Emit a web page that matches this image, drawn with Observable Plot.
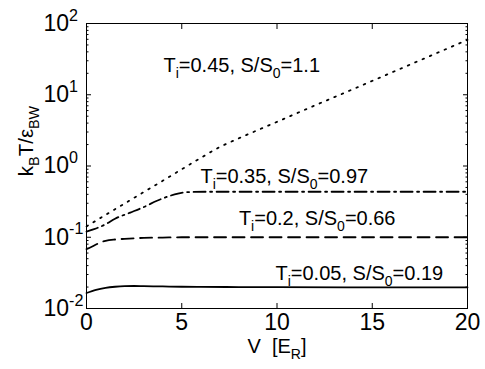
<!DOCTYPE html>
<html><head><meta charset="utf-8">
<script src="https://cdn.jsdelivr.net/npm/d3@7"></script>
<script src="https://cdn.jsdelivr.net/npm/@observablehq/plot@0.6"></script>
<style>body{margin:0;background:#fff} svg{display:block}</style>
</head><body><div id="chart"></div>
<script>
// Series: T_i = 0.05 (solid)
const vA = [0, 0.5, 1, 1.5, 2, 2.5, 3, 4, 5, 6, 8, 10, 14, 20];
const tA = [0.0165, 0.0183, 0.0195, 0.0202, 0.0206, 0.0207, 0.0206, 0.0204, 0.0202, 0.0201, 0.02, 0.0199, 0.0198, 0.0198];
// T_i = 0.2 (dashed)
const vB = [0, 0.25, 0.5, 0.75, 1, 1.5, 2, 3, 4, 5, 6, 8, 20];
const tB = [0.068, 0.073, 0.079, 0.085, 0.089, 0.093, 0.095, 0.098, 0.099, 0.1, 0.1, 0.1, 0.1];
// T_i = 0.35 (dash-dot)
const vC = [0, 0.4, 1, 1.5, 2.3, 3, 3.7, 4.3, 4.8, 5.5, 6.5, 8, 20];
const tC = [0.12, 0.13, 0.152, 0.182, 0.222, 0.265, 0.325, 0.375, 0.41, 0.432, 0.435, 0.435, 0.435];
// T_i = 0.45 (dotted)
const vD = [0, 1, 2, 3, 4, 5, 6, 7, 8, 9, 10, 12, 14, 16, 18, 20];
const tD = [0.142, 0.206, 0.297, 0.43, 0.62, 0.9, 1.3, 1.85, 2.45, 3.2, 4.17, 7.1, 12, 20.4, 34.7, 58.9];

const xTicks = [0, 5, 10, 15, 20];
const yTicks = [0.01, 0.1, 1, 10, 100];
const yTickLabels = ["10^{-2}", "10^{-1}", "10^{0}", "10^{1}", "10^{2}"];

const labelText = ["T_{i}=0.45, S/S_{0}=1.1", "T_{i}=0.35, S/S_{0}=0.97", "T_{i}=0.2, S/S_{0}=0.66", "T_{i}=0.05, S/S_{0}=0.19"];
const labelV = [4.04, 5.98, 8.0, 9.92];
const labelT = [25.6, 0.713, 0.184, 0.0312];

const xLabel = "V\u00a0\u00a0[E_{R}]";
const yLabel = "k_{B}T/\u03b5_{BW}";
const yLabelAt = 0.72; // where the (upward-running) y-axis title starts, in data units

const series = (v, t) => v.map((x, i) => ({V: x, T: t[i]}));
const yMinor = d3.scaleLog().domain([0.01, 100]).ticks()
  .filter(d => Math.abs(Math.log10(d) - Math.round(Math.log10(d))) > 1e-6);

const lineOpts = {x: "V", y: "T", stroke: "black", curve: "monotone-x"};

const svg = Plot.plot({
  width: 485, height: 369,
  marginLeft: 86, marginRight: 18, marginTop: 23, marginBottom: 61,
  style: {fontFamily: "'Liberation Sans', Arial, Helvetica, sans-serif", color: "black", background: "white"},
  x: {domain: [0, 20]},
  y: {type: "log", domain: [0.01, 100]},
  marks: [
    Plot.axisX({anchor: "bottom", ticks: xTicks, tickSize: -5, fill: "none", label: null}),
    Plot.axisX({anchor: "top", ticks: xTicks, tickSize: -5, fill: "none", label: null}),
    Plot.axisX({anchor: "bottom", ticks: xTicks, tickSize: 0, tickPadding: 5, fontSize: 23, label: null}),
    Plot.axisY({anchor: "left", ticks: yTicks, tickSize: -5, fill: "none", label: null}),
    Plot.axisY({anchor: "left", ticks: yMinor, tickSize: -2.5, fill: "none", label: null}),
    Plot.axisY({anchor: "right", ticks: yTicks, tickSize: -5, fill: "none", label: null}),
    Plot.axisY({anchor: "right", ticks: yMinor, tickSize: -2.5, fill: "none", label: null}),
    Plot.axisY({anchor: "left", ticks: yTicks, tickFormat: d => yTickLabels[yTicks.indexOf(d)],
      tickSize: 0, tickPadding: 0, textAnchor: "start", dx: -43, fontSize: 23, label: null}),
    Plot.line(series(vA, tA), {...lineOpts, strokeWidth: 1.8}),
    Plot.line(series(vB, tB), {...lineOpts, strokeWidth: 1.8, strokeDasharray: "12,6.5"}),
    Plot.line(series(vC, tC), {...lineOpts, strokeWidth: 1.8, strokeDasharray: "12,4.5,2,4.5"}),
    Plot.line(series(vD, tD), {...lineOpts, strokeWidth: 1.8, strokeDasharray: "1.7,6.3"}),
    Plot.text(labelText, {x: (d, i) => labelV[i], y: (d, i) => labelT[i], text: d => d,
      textAnchor: "start", lineAnchor: "middle", fontSize: 20, fill: "black"}),
    Plot.text([xLabel], {frameAnchor: "bottom", textAnchor: "middle", lineAnchor: "middle",
      dy: 38, fontSize: 20, fill: "black"}),
    Plot.text([yLabel], {y: [yLabelAt], frameAnchor: "left", textAnchor: "start", lineAnchor: "middle",
      rotate: -90, dx: -60, fontSize: 20.5, fill: "black", clip: false}),
    Plot.frame({stroke: "black", strokeWidth: 1})
  ]
});
document.getElementById("chart").append(svg);

// Convert _{..} and ^{..} into real sub/superscript tspans
function richify(root) {
  const NS = "http://www.w3.org/2000/svg";
  root.querySelectorAll("text").forEach(t => {
    const s = t.textContent;
    if (!/[_^]\{/.test(s)) return;
    const fs = parseFloat(getComputedStyle(t).fontSize);
    while (t.firstChild) t.removeChild(t.firstChild);
    let cur = 0;
    for (const m of s.matchAll(/([_^])\{([^}]*)\}|([^_^]+)/g)) {
      const ts = document.createElementNS(NS, "tspan");
      let target = 0, text;
      if (m[1]) {
        target = m[1] === "_" ? 0.3 * fs : -0.45 * fs;
        text = m[2];
        ts.setAttribute("font-size", (0.7 * fs).toFixed(2));
      } else {
        text = m[3];
      }
      const dy = target - cur;
      if (dy) ts.setAttribute("dy", dy.toFixed(2));
      cur = target;
      ts.textContent = text;
      t.appendChild(ts);
    }
  });
}
richify(svg);
</script>
</body></html>
